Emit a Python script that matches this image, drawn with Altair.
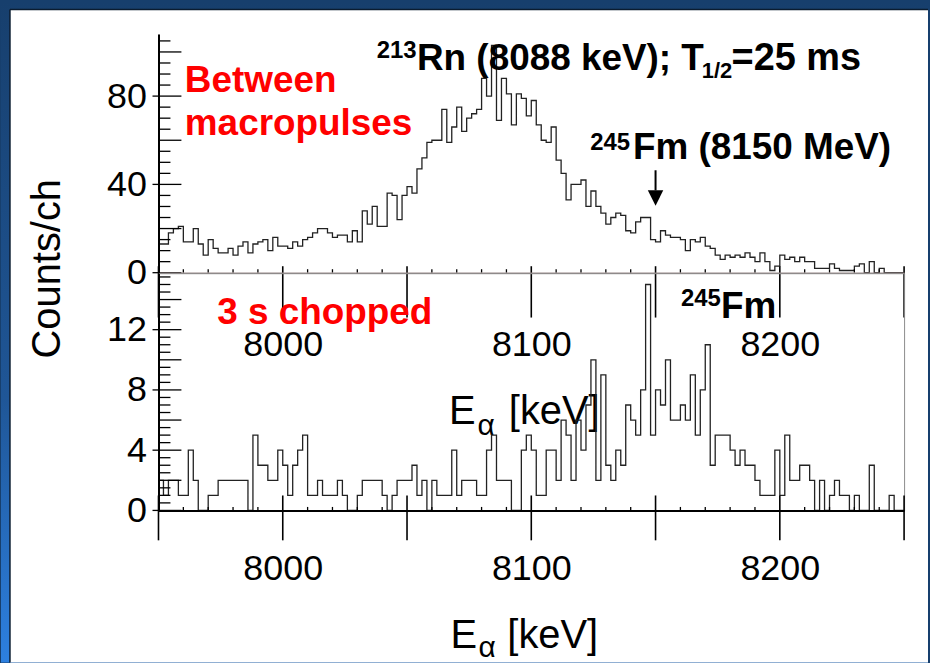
import altair as alt
import pandas as pd

# ---------------- data (counts per 2 keV channel, 7950-8250 keV) ----------------
E_START = 7950
BIN_W = 2

top_counts = [
    13, 13, 18, 20, 21, 14, 14, 20, 13, 8,
    15, 11, 9, 9, 11, 8, 12, 14, 9, 13,
    14, 15, 10, 16, 12, 12, 11, 14, 12, 15,
    16, 18, 20, 20, 18, 16, 17, 17, 14, 19,
    14, 28, 22, 30, 21, 21, 36, 35, 24, 35,
    39, 36, 47, 52, 59, 60, 60, 74, 59, 66,
    75, 64, 70, 72, 74, 88, 80, 103, 69, 88,
    81, 67, 81, 79, 71, 78, 67, 60, 59, 66,
    51, 45, 33, 40, 40, 42, 30, 37, 30, 27,
    22, 25, 27, 26, 19, 18, 23, 25, 25, 15,
    14, 19, 17, 16, 16, 15, 10, 15, 14, 16,
    12, 11, 8, 6, 8, 7, 8, 7, 9, 7,
    5, 9, 5, 1, 3, 8, 6, 7, 5, 7,
    5, 5, 2, 2, 2, 4, 2, 1, 1, 1,
    3, 4, 0, 5, 0, 2, 0, 0, 0, 0,
]

bottom_counts = [
    2, 1, 2, 2, 1, 1, 4, 2, 0, 0,
    1, 1, 2, 2, 2, 2, 2, 2, 0, 5,
    3, 3, 2, 2, 4, 3, 1, 3, 4, 5,
    1, 1, 2, 1, 1, 1, 2, 1, 0, 0,
    1, 2, 2, 2, 2, 1, 0, 1, 2, 2,
    2, 3, 1, 2, 0, 2, 1, 1, 1, 4,
    1, 2, 2, 2, 1, 1, 4, 5, 2, 2,
    2, 0, 0, 4, 5, 4, 1, 1, 4, 4,
    2, 6, 5, 2, 6, 4, 7, 10, 2, 9,
    3, 2, 4, 3, 7, 6, 5, 8, 15, 5,
    8, 7, 10, 6, 6, 7, 6, 9, 5, 8,
    11, 3, 5, 5, 5, 4, 3, 4, 3, 3,
    2, 1, 1, 1, 4, 1, 5, 2, 2, 3,
    3, 2, 0, 2, 0, 1, 2, 1, 1, 0,
    1, 0, 0, 3, 0, 0, 0, 1, 0, 0,
]

x_label_values = [8000, 8100, 8200]
top_y_labels = [0, 40, 80]
bottom_y_labels = [0, 4, 8, 12]

# ---------------- layout / style constants ----------------
FONT = "Liberation Sans"
W = 748
H_TOP = 239.5
H_BOT = 238
X_DOMAIN = [7950, 8250]
TOP_YMAX = 108.15
BOT_YMAX = 15.75
LINE = "#222222"


def step_df(counts):
    n = len(counts)
    edges = [E_START + BIN_W * i for i in range(n + 1)]
    vals = list(counts) + [counts[-1]]
    return pd.DataFrame({"e": edges, "c": vals})


xscale = alt.Scale(domain=X_DOMAIN, nice=False, zero=False)
ytop = alt.Scale(domain=[0, TOP_YMAX], nice=False, zero=False)
ybot = alt.Scale(domain=[0, BOT_YMAX], nice=False, zero=False)


def xaxis(pad, dom_color, dom_w):
    return alt.Axis(values=x_label_values, format="d", ticks=False, tickSize=0, grid=False,
                    title=None, labelFont=FONT, labelFontSize=36, labelColor="black",
                    labelPadding=pad, labelBaseline="middle", labelFlush=False,
                    labelOverlap=False, domainColor=dom_color, domainWidth=dom_w,
                    zindex=2)


def yaxis(vals):
    return alt.Axis(values=vals, format="d", ticks=False, tickSize=0, grid=False, title=None,
                    labelFont=FONT, labelFontSize=36, labelColor="black",
                    labelPadding=12, labelFlush=False, labelOverlap=False,
                    domainColor="black", domainWidth=2, zindex=2)


XA_TOP = xaxis(72, "#9a8a8a", 1.5)
YA_TOP = yaxis(top_y_labels)
XA_BOT = xaxis(58, "black", 2)
YA_BOT = yaxis(bottom_y_labels)


def one(**kw):
    return pd.DataFrame({k: [v] for k, v in kw.items()})


def yticks(vals, yscale, yax, x0, x1):
    return alt.Chart(pd.DataFrame({"v": vals})).mark_rule(color="black", strokeWidth=1.3).encode(
        y=alt.Y("v:Q", scale=yscale, axis=yax), x=alt.value(x0), x2=alt.value(x1))


def xticks(vals, xax, y0, y1, width=1.3):
    return alt.Chart(pd.DataFrame({"v": vals})).mark_rule(color="black", strokeWidth=width).encode(
        x=alt.X("v:Q", scale=xscale, axis=xax), y=alt.value(y0), y2=alt.value(y1))


def note(text, e, c, yscale, xax, yax, size=37, color="black", weight="bold"):
    return alt.Chart(one(e=e, c=c, t=text)).mark_text(
        align="left", baseline="alphabetic", font=FONT, fontSize=size,
        fontWeight=weight, color=color).encode(
        x=alt.X("e:Q", scale=xscale, axis=xax),
        y=alt.Y("c:Q", scale=yscale, axis=yax), text="t:N")


def pix_text(text, x, y, size, angle=0, align="left", baseline="alphabetic"):
    return alt.Chart(one(t=text)).mark_text(
        align=align, baseline=baseline, font=FONT, fontSize=size, color="black",
        angle=angle).encode(x=alt.value(x), y=alt.value(y), text="t:N")


minor_x = [v for v in range(7960, 8250, 10) if v % 50]
major_x = list(range(7950, 8251, 50))
top_minor_y = [v for v in range(5, 108, 5) if v % 20]
top_mid_y = [20, 60, 100]
bot_minor_y = [v / 2 for v in range(1, 32) if v % 4]
bot_mid_y = [2, 6, 10, 14]

# ---------------- decorative page frame ----------------
frame = alt.Chart(one(a=0)).mark_rect(
    fill=alt.LinearGradient(gradient="linear", x1=0, x2=0, y1=0, y2=1,
                            stops=[alt.GradientStop(color="#173f6d", offset=0),
                                   alt.GradientStop(color="#1f5697", offset=0.6),
                                   alt.GradientStop(color="#2d80e0", offset=1)])
).encode(x=alt.value(-158), x2=alt.value(772), y=alt.value(-32.5), y2=alt.value(630.5))
paper = alt.Chart(one(a=0)).mark_rect(fill="white").encode(
    x=alt.value(-149), x2=alt.value(772), y=alt.value(-24.5), y2=alt.value(630.5))
edge_top = alt.Chart(one(a=0)).mark_rule(color="#0b1c30", strokeWidth=1.5).encode(
    x=alt.value(-149), x2=alt.value(772), y=alt.value(-24.5))
edge_left = alt.Chart(one(a=0)).mark_rule(color="#0b1c30", strokeWidth=1.5).encode(
    x=alt.value(-149), y=alt.value(-24.5), y2=alt.value(630.5))

# ---------------- top panel ----------------
hist_top = alt.Chart(step_df(top_counts)).mark_line(
    interpolate="step-after", color=LINE, strokeWidth=1.3).encode(
    x=alt.X("e:Q", scale=xscale, axis=XA_TOP),
    y=alt.Y("c:Q", scale=ytop, axis=YA_TOP))

arrow_shaft = alt.Chart(one(e=8150, c=46.4, c2=37.3)).mark_rule(color="black", strokeWidth=2).encode(
    x=alt.X("e:Q", scale=xscale, axis=XA_TOP), y=alt.Y("c:Q", scale=ytop, axis=YA_TOP), y2="c2:Q")
arrow_head = alt.Chart(one(e=8150, c=33.8)).mark_point(
    shape="M-1,-1L1,-1L0,1Z", filled=True, color="black", size=240, opacity=1).encode(
    x=alt.X("e:Q", scale=xscale, axis=XA_TOP), y=alt.Y("c:Q", scale=ytop, axis=YA_TOP))


def nt(text, e, c, **kw):
    return note(text, e, c, ytop, XA_TOP, YA_TOP, **kw)


def nb(text, e, c, **kw):
    return note(text, e, c, ybot, XA_BOT, YA_BOT, **kw)


top = alt.layer(
    frame, paper, edge_top, edge_left,
    hist_top,
    yticks(top_minor_y, ytop, YA_TOP, 0, 12),
    yticks(top_mid_y, ytop, YA_TOP, 0, 23),
    yticks(top_y_labels, ytop, YA_TOP, -6, 23),
    xticks(minor_x, XA_TOP, H_TOP - 3.5, H_TOP),
    xticks(major_x, XA_TOP, H_TOP - 6.5, H_TOP + 45, 1.6),
    nt("Between", 7960.6, 81.9, color="#ff0000"),
    nt("macropulses", 7960.6, 62.3, color="#ff0000"),
    nt("213", 8037.8, 97.2, size=24),
    nt("Rn (8088 keV); T", 8054.0, 92.0),
    nt("1/2", 8168.6, 88.2, size=22),
    nt("=25 ms", 8180.6, 92.0, size=38),
    nt("245", 8123.7, 55.5, size=24),
    nt("Fm (8150 MeV)", 8140.9, 51.3),
    arrow_shaft, arrow_head,
    pix_text("Counts/ch", -111, 235.5, 40, angle=270, align="center", baseline="middle"),
    pix_text("E", 291.5, 391.5, 40),
    pix_text("\u03b1", 320, 402.5, 30),
    pix_text("[keV]", 351.5, 391.5, 40),
).properties(width=W, height=H_TOP)

# ---------------- bottom panel ----------------
hist_bot = alt.Chart(step_df(bottom_counts)).mark_line(
    interpolate="step-after", color=LINE, strokeWidth=1.3).encode(
    x=alt.X("e:Q", scale=xscale, axis=XA_BOT),
    y=alt.Y("c:Q", scale=ybot, axis=YA_BOT))

bottom = alt.layer(
    hist_bot,
    yticks(bot_minor_y, ybot, YA_BOT, 0, 12),
    yticks(bot_mid_y, ybot, YA_BOT, 0, 23),
    yticks(bottom_y_labels, ybot, YA_BOT, -6, 23),
    xticks(minor_x, XA_BOT, H_BOT - 3.5, H_BOT),
    xticks(major_x, XA_BOT, H_BOT - 15, H_BOT + 30, 1.6),
    nb("3 s chopped", 7973.6, 12.40, color="#ff0000"),
    nb("245", 8160.2, 13.57, size=24),
    nb("Fm", 8176.3, 12.79),
    pix_text("E", 293, 376, 40),
    pix_text("\u03b1", 321, 385, 30),
    pix_text("[keV]", 350, 376, 40),
).properties(width=W, height=H_BOT)

chart = alt.vconcat(top, bottom, spacing=0, bounds="flush").properties(
    padding=0, background="#173f6d"
).configure_view(stroke="#8c8c8c", strokeWidth=1)

chart.save("out.html", embed_options={"renderer": "svg", "actions": False})
